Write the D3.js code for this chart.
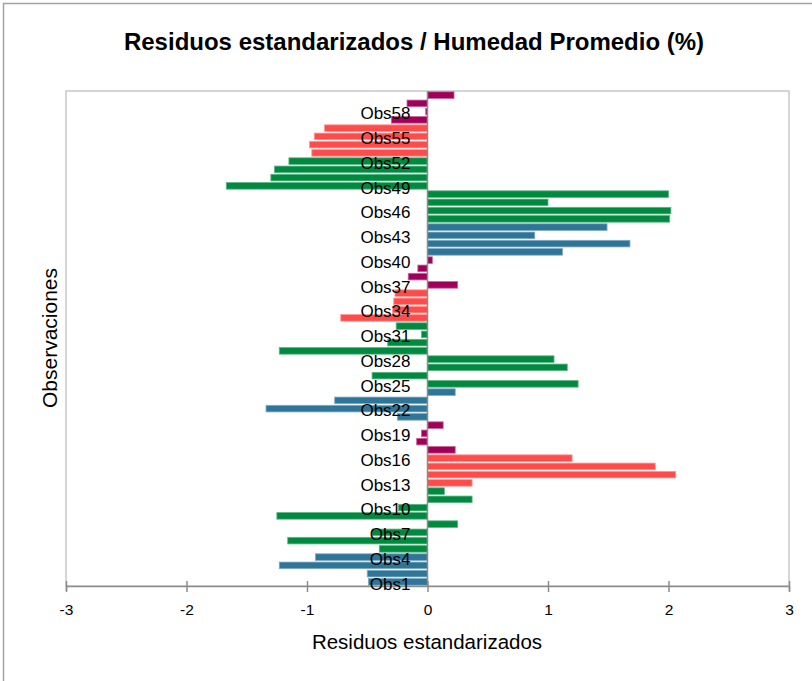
<!DOCTYPE html>
<html>
<head>
<meta charset="utf-8">
<script src="https://cdn.jsdelivr.net/npm/d3@7"></script>
<style>
  html, body { margin: 0; padding: 0; background: #fff; }
  svg { display: block; }
</style>
</head>
<body>
<svg id="chart" width="812" height="681"></svg>
<script>
// ---- data ----
const observations = d3.range(1, 61).map(i => "Obs" + i);
const residuals = [
  -0.49, -0.50, -1.23, -0.93, -0.40, -1.16, -0.46, 0.25, -1.25, -0.24,
   0.37,  0.14,  0.37,  2.06,  1.89,  1.20,  0.23, -0.09, -0.05,  0.13,
  -0.25, -1.34, -0.77,  0.23,  1.25, -0.46,  1.16,  1.05, -1.23, -0.33,
  -0.05, -0.26, -0.72, -0.29, -0.28, -0.27,  0.25, -0.16, -0.08,  0.04,
   1.12,  1.68,  0.89,  1.49,  2.01,  2.02,  1.00,  2.00, -1.67, -1.30,
  -1.27, -1.15, -0.96, -0.98, -0.94, -0.855, -0.30, -0.015, -0.17, 0.22
];
const groupOf = [
  "A","A","A","A","B","B","B","B","B","B","B","B","C","C","C","C","D","D","D","D",
  "A","A","A","A","B","B","B","B","B","B","B","B","C","C","C","C","D","D","D","D",
  "A","A","A","A","B","B","B","B","B","B","B","B","C","C","C","C","D","D","D","D"
];
const groupNames = ["A", "B", "C", "D"];
const groupColors = ["#2E7598", "#008A3F", "#FF4B4A", "#A1005A"];
const groupStrokes = ["#7FAAC2", "#5FB487", "#FF9C9A", "#C86497"];
const yTickLabels = d3.range(1, 61, 3).map(i => "Obs" + i);
const xTicks = [-3, -2, -1, 0, 1, 2, 3];

const titleText = "Residuos estandarizados / Humedad Promedio (%)";
const xTitle = "Residuos estandarizados";
const yTitle = "Observaciones";

// ---- layout ----
const svg = d3.select("#chart");
const plot = { left: 66, right: 789, top: 91, bottom: 586 };

const x = d3.scaleLinear().domain([-3, 3]).range([plot.left, plot.right]);
const y = d3.scaleBand().domain(observations).range([plot.bottom, plot.top]).paddingInner(0.2).paddingOuter(0.1);
const color = d3.scaleOrdinal().domain(groupNames).range(groupColors);
const strokeC = d3.scaleOrdinal().domain(groupNames).range(groupStrokes);

// outer chart border
svg.append("rect")
  .attr("x", 3.5).attr("y", 3.5)
  .attr("width", 900).attr("height", 800)
  .attr("fill", "#fff")
  .attr("stroke", "#a3a3a3").attr("stroke-width", 1.5);

// plot area border
svg.append("rect")
  .attr("x", plot.left).attr("y", plot.top)
  .attr("width", plot.right - plot.left).attr("height", plot.bottom - plot.top)
  .attr("fill", "none").attr("stroke", "#c8c8c8").attr("stroke-width", 1.5);

// title
svg.append("text")
  .attr("x", 414).attr("y", 50)
  .attr("text-anchor", "middle")
  .attr("font-family", "Liberation Sans, Arial, sans-serif")
  .attr("font-weight", "bold").attr("font-size", 24)
  .attr("fill", "#000")
  .text(titleText);

// bars
svg.append("g").selectAll("rect")
  .data(residuals)
  .join("rect")
  .attr("x", d => x(Math.min(0, d)))
  .attr("y", (d, i) => y(observations[i]))
  .attr("width", d => Math.abs(x(d) - x(0)))
  .attr("height", y.bandwidth())
  .attr("fill", (d, i) => color(groupOf[i]))
  .attr("stroke", (d, i) => strokeC(groupOf[i]))
  .attr("stroke-width", 0.8);

// x axis
const xAxis = d3.axisBottom(x).tickValues(xTicks).tickSize(5).tickFormat(d3.format("d"));
const gx = svg.append("g").attr("transform", `translate(0,${plot.bottom})`).call(xAxis);
gx.select(".domain").attr("stroke", "#8c8c8c").attr("stroke-width", 1.5);
gx.selectAll(".tick line").attr("stroke", "#8c8c8c").attr("stroke-width", 1.5).attr("y1", -5).attr("y2", 6);
gx.selectAll(".tick text")
  .attr("y", 18)
  .attr("font-family", "Liberation Sans, Arial, sans-serif")
  .attr("font-size", 15.5).attr("fill", "#000")
  .text(d => d < 0 ? "-" + Math.abs(d) : d);

// y axis at zero
const yAxis = d3.axisLeft(y).tickValues(yTickLabels).tickSize(0).tickPadding(17);
const gy = svg.append("g").attr("transform", `translate(${x(0)},0)`).call(yAxis);
gy.select(".domain").attr("stroke", "#8c8c8c").attr("stroke-width", 1.5)
  .attr("d", `M0,${plot.top}V${plot.bottom}`);
gy.selectAll(".tick text")
  .attr("dy", "0.45em")
  .attr("font-family", "Liberation Sans, Arial, sans-serif")
  .attr("font-size", 17).attr("fill", "#000");

// axis titles
svg.append("text")
  .attr("x", 427).attr("y", 649)
  .attr("text-anchor", "middle")
  .attr("font-family", "Liberation Sans, Arial, sans-serif")
  .attr("font-size", 20.5).attr("fill", "#000")
  .text(xTitle);

svg.append("text")
  .attr("transform", "translate(57,338) rotate(-90)")
  .attr("text-anchor", "middle")
  .attr("font-family", "Liberation Sans, Arial, sans-serif")
  .attr("font-size", 21).attr("fill", "#000")
  .text(yTitle);
</script>
</body>
</html>
